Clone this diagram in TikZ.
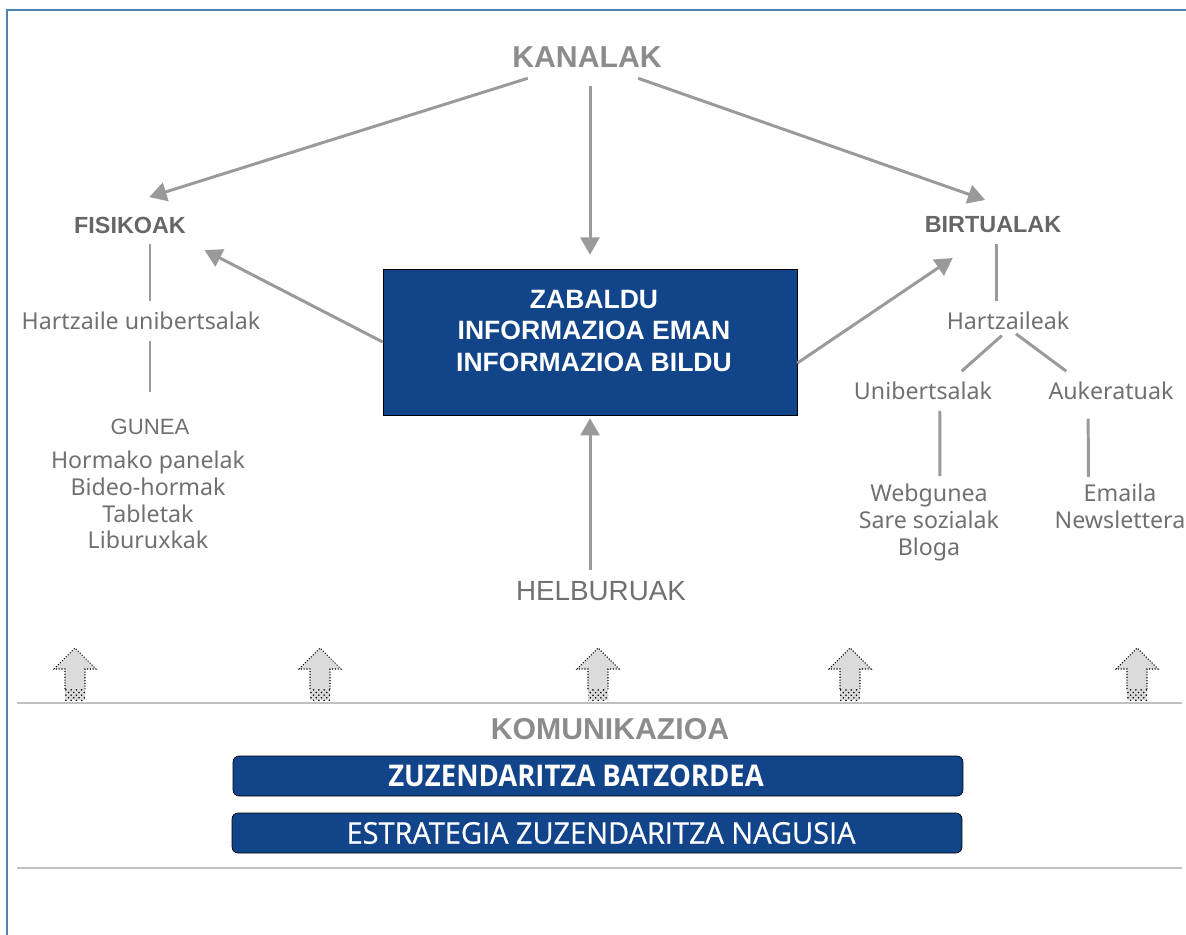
\documentclass[tikz,border=0pt]{standalone}
\usepackage{fontspec}
\setmainfont{Liberation Sans}
\newfontfamily\notosans{Noto Sans}
\newfontfamily\narrowsans[FakeStretch=0.92]{Open Sans}
\newfontfamily\narrowsanstoo[FakeStretch=0.97,FakeBold=0.6]{Open Sans}
\usetikzlibrary{arrows,positioning,patterns}

\definecolor{framblue}{HTML}{5081B5}
\definecolor{boxblue}{HTML}{12448A}
\definecolor{arrgray}{HTML}{9A9A9A}
\definecolor{titlegray}{HTML}{8C8C8C}
\definecolor{subgray}{HTML}{666666}
\definecolor{txtgray}{HTML}{707070}
\definecolor{rulegray}{HTML}{C0C0C0}

\begin{document}
\begin{tikzpicture}[x=0.02cm,y=-0.02cm]
				\tikzstyle{myedgestyle} = [-triangle 60, line width=1.7pt, draw=arrgray]
				\tikzstyle{treeline} = [line width=1.7pt, draw=arrgray]
				\tikzstyle{titel} = [inner sep=6pt, text=titlegray, font=\bfseries\fontsize{17.2}{20}\selectfont]
				\tikzstyle{subtitel} = [inner sep=6pt, text=subgray, font=\bfseries\fontsize{13.3}{16}\selectfont]
				\tikzstyle{plain} = [inner sep=6pt, text=txtgray, font=\fontsize{12.6}{15}\selectfont]
				\tikzstyle{item} = [inner sep=6pt, text=txtgray, align=center, font=\notosans\fontsize{13.2}{15.1}\selectfont]
				\tikzstyle{bluebox} = [draw=black, fill=boxblue, inner sep=0pt]
				\tikzstyle{bluetext} = [text=white, align=center]
				
				\useasboundingbox (0,0) rectangle (1186,935);
				\draw[framblue, line width=1.1pt] (7,935) -- (7,10) -- (1186,10);
				
				\node[titel] (kanal) at (587,57) {KANALAK};
				\node[subtitel] (fis) at (130,225) {FISIKOAK};
				\node[subtitel] (birt) at (993,225) {BIRTUALAK};
				
				\node[bluebox, minimum width=8.28cm, minimum height=2.92cm] (box) at (590,342) {};
				\node[bluetext, font=\bfseries\fontsize{15.1}{17.9}\selectfont] (boxtxt) at (594,331) {ZABALDU\\INFORMAZIOA EMAN\\INFORMAZIOA BILDU};
				\node[plain, font=\fontsize{15.8}{18}\selectfont] (helb) at (601,591) {HELBURUAK};
				
				% ezkerreko adarra
				\node[item] (hart) at (141,321) {Hartzaile unibertsalak};
				\node[plain] (gunea) at (150,427) {GUNEA};
				\node[item, inner sep=0pt, anchor=north] (gunelist) at (148,451) {Hormako panelak\\Bideo-hormak\\Tabletak\\Liburuxkak};
				
				% eskuineko adarra
				\node[item] (hartz) at (1008,321) {Hartzaileak};
				\node[item] (unib) at (923,391) {Unibertsalak};
				\node[item] (auk) at (1111,391) {Aukeratuak};
				\node[item, inner sep=0pt, anchor=north] (weblist) at (929,484) {Webgunea\\Sare sozialak\\Bloga};
				\node[item, inner sep=0pt, anchor=north] (maillist) at (1120,484) {Emaila\\Newslettera};
				\coordinate (birtfoot) at ([xshift=2pt]birt.south);
				
				\draw [myedgestyle] ([xshift=15pt]kanal.south west) -- ([xshift=11pt,yshift=5pt]fis.north);
				\draw [myedgestyle, shorten <=4.5pt, shorten >=8pt] (kanal.south -| box.north) -- (box.north);
				\draw [myedgestyle] ([xshift=-19.6pt]kanal.south east) -- ([xshift=-4.5pt,yshift=3.4pt]birt.north);
				\draw [myedgestyle] (box.west) -- ([xshift=4.5pt,yshift=-3.4pt]fis.south east);
				\draw [myedgestyle] ([yshift=-12pt]box.east) -- ([xshift=22pt,yshift=-8pt]birt.south west);
				\draw [myedgestyle, shorten >=1.7pt] (helb.north -| box.south) -- (box.south);
				
				\draw [treeline] (fis.south -| gunea.north) -- (hart.north -| gunea.north);
				\draw [treeline, shorten >=9pt] (hart.south -| gunea.north) -- (gunea.north);
				\draw [treeline] (birtfoot) -- (birtfoot |- hartz.north);
				\draw [treeline] ([xshift=-3.5pt,yshift=3pt]hartz.south) -- ([xshift=22pt]unib.north);
				\draw [treeline] ([xshift=4.5pt,yshift=4pt]hartz.south) -- ([xshift=-25.5pt]auk.north);
				\draw [treeline, shorten >=4.5pt] ([xshift=9.6pt]unib.south) -- ([xshift=6.2pt]weblist.north);
				\draw [treeline, shorten <=4.5pt, shorten >=4pt] ([xshift=-13pt]auk.south) -- ([xshift=-18pt]maillist.north);
				
				% gorako geziak
				\foreach \x/\n in {75/1,320/2,598/3,850/4,1137/5}{
					\path[fill=gray!28] (\x,648) -- (\x+21,669) -- (\x+10,669) -- (\x+10,700) -- (\x-10,700) -- (\x-10,669) -- (\x-21,669) -- cycle;
					\path[pattern=crosshatch dots] (\x-10,689) rectangle (\x+10,700);
					\draw[black, densely dotted, line width=0.6pt] (\x-10,689) -- (\x-10,669) -- (\x-21,669) -- (\x,648) -- (\x+21,669) -- (\x+10,669) -- (\x+10,689);
					\coordinate (up\n) at (\x,700);
				}
				
				\draw[rulegray, line width=1.1pt] (17,703) -- (1182,703);
				\draw[rulegray, line width=1.1pt] (17,868) -- (1182,868);
				
				\node[titel] (komu) at (610,729) {KOMUNIKAZIOA};
				\node[bluebox, rounded corners=3.4pt, minimum width=14.6cm, minimum height=0.8cm] (bar1) at (598,776) {};
				\node[bluetext, font=\narrowsans\bfseries\fontsize{17}{20}\selectfont] (bar1txt) at (576,776) {ZUZENDARITZA BATZORDEA};
				\node[bluebox, rounded corners=3.4pt, minimum width=14.6cm, minimum height=0.8cm] (bar2) at (597,833) {};
				\node[bluetext, font=\narrowsanstoo\fontsize{17}{20}\selectfont] (bar2txt) at (601,833) {ESTRATEGIA ZUZENDARITZA NAGUSIA};
				
				\end{tikzpicture}
\end{document}
